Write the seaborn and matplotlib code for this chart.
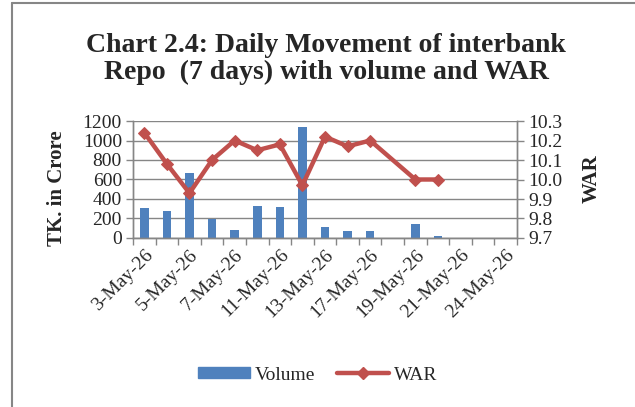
import numpy as np
import pandas as pd
import matplotlib
matplotlib.use("Agg")
import matplotlib.pyplot as plt
from matplotlib.lines import Line2D
import seaborn as sns

dates = ["3-May-26", "4-May-26", "5-May-26", "6-May-26", "7-May-26",
         "10-May-26", "11-May-26", "12-May-26", "13-May-26", "14-May-26",
         "17-May-26", "18-May-26", "19-May-26", "20-May-26", "21-May-26",
         "23-May-26", "24-May-26"]
volume = [309, 278, 668, 199, 86, 333, 316, 1142, 115, 69, 69,
          np.nan, 148, 17, np.nan, np.nan, np.nan]
war = [10.24, 10.08, 9.93, 10.10, 10.20, 10.15, 10.18, 9.97, 10.22, 10.17, 10.20,
       np.nan, 10.00, 10.00, np.nan, np.nan, np.nan]
left_ticks = [0, 200, 400, 600, 800, 1000, 1200]
right_ticks = [9.7, 9.8, 9.9, 10.0, 10.1, 10.2, 10.3]
title = "Chart 2.4: Daily Movement of interbank\nRepo  (7 days) with volume and WAR"

sns.set_theme(style="white")
plt.rcParams["font.family"] = ["Liberation Serif", "DejaVu Serif"]

df = pd.DataFrame({"date": dates, "pos": np.arange(len(dates)),
                   "volume": volume, "war": war})

BAR = "#4F81BD"
LINE = "#C0504D"
GRID = "#868686"

fig = plt.figure(figsize=(6.35, 4.07), dpi=100)
ax = fig.add_axes([133 / 635, 1 - 238 / 407, (517 - 133) / 635, (238 - 121) / 407])

bars_df = df.dropna(subset=["volume"])
sns.barplot(data=bars_df, x="pos", y="volume", native_scale=True, color=BAR,
            width=0.38, ax=ax, saturation=1, linewidth=0)

ax2 = ax.twinx()
line_df = df.dropna(subset=["war"])
sns.lineplot(data=line_df, x="pos", y="war", ax=ax2, color=LINE, linewidth=3.2,
             marker="D", markersize=6.5, markeredgecolor=LINE, legend=False)

ax.set_xlim(-0.5, len(dates) - 0.5)
ax.set_ylim(0, 1200)
ax2.set_ylim(9.7, 10.3)
ax.set_yticks(left_ticks)
ax.set_yticklabels([str(v) for v in left_ticks])
ax2.set_yticks(right_ticks)
ax2.set_yticklabels([f"{v:.1f}" for v in right_ticks])

ax.set_axisbelow(True)
ax.yaxis.grid(True, color=GRID, linewidth=1)
ax.xaxis.grid(False)

# category boundary tick marks, labels at every other category
ax.set_xticks(np.arange(-0.5, len(dates), 1.0))
ax.set_xticklabels([])
ax.set_xticks(np.arange(0, len(dates), 2), minor=True)
ax.set_xticklabels([dates[i] for i in range(0, len(dates), 2)], minor=True,
                   rotation=45, ha="right", rotation_mode="anchor", fontsize=14)
ax.tick_params(axis="x", which="major", direction="out", length=5, color=GRID,
               width=1, bottom=True)
ax.tick_params(axis="x", which="minor", length=0, pad=6)
ax.tick_params(axis="y", direction="out", length=5, color=GRID, width=1,
               labelsize=14, pad=3, left=True)
ax2.tick_params(axis="y", direction="out", length=5, color=GRID, width=1,
                labelsize=14, pad=3, right=True)

ax.set_xlabel("")
ax.set_ylabel("")
ax2.set_xlabel("")
ax2.set_ylabel("")

for a in (ax, ax2):
    for s in a.spines.values():
        s.set_color(GRID)
        s.set_linewidth(1)
    a.spines["top"].set_visible(False)

fig.text(57 / 635, 1 - 188 / 407, "TK. in Crore", rotation=90, ha="center",
         va="center", fontsize=15, fontweight="bold")
fig.text(592 / 635, 1 - 179 / 407, "WAR", rotation=90, ha="center",
         va="center", fontsize=15, fontweight="bold")

fig.text(326 / 635, 1 - 33 / 407, title, ha="center", va="top", fontsize=20,
         fontweight="bold", linespacing=1.08)

handles = [plt.Rectangle((0, 0), 1, 1, color=BAR),
           Line2D([0], [0], color=LINE, linewidth=3.2, marker="D", markersize=6.5)]
fig.legend(handles, ["Volume", "WAR"], loc="center", bbox_to_anchor=(0.5, 1 - 375 / 407),
           ncol=2, frameon=False, fontsize=14, handlelength=2.7, handleheight=0.55,
           handletextpad=0.25, columnspacing=1.1)

# outer chart border (left and top only visible in the reference)
fig.add_artist(Line2D([12 / 635, 12 / 635], [0, 1 - 3 / 407], color=GRID, linewidth=1.5,
                      transform=fig.transFigure))
fig.add_artist(Line2D([12 / 635, 1], [1 - 3 / 407, 1 - 3 / 407], color=GRID, linewidth=1.5,
                      transform=fig.transFigure))

fig.savefig("out.png", dpi=100)
